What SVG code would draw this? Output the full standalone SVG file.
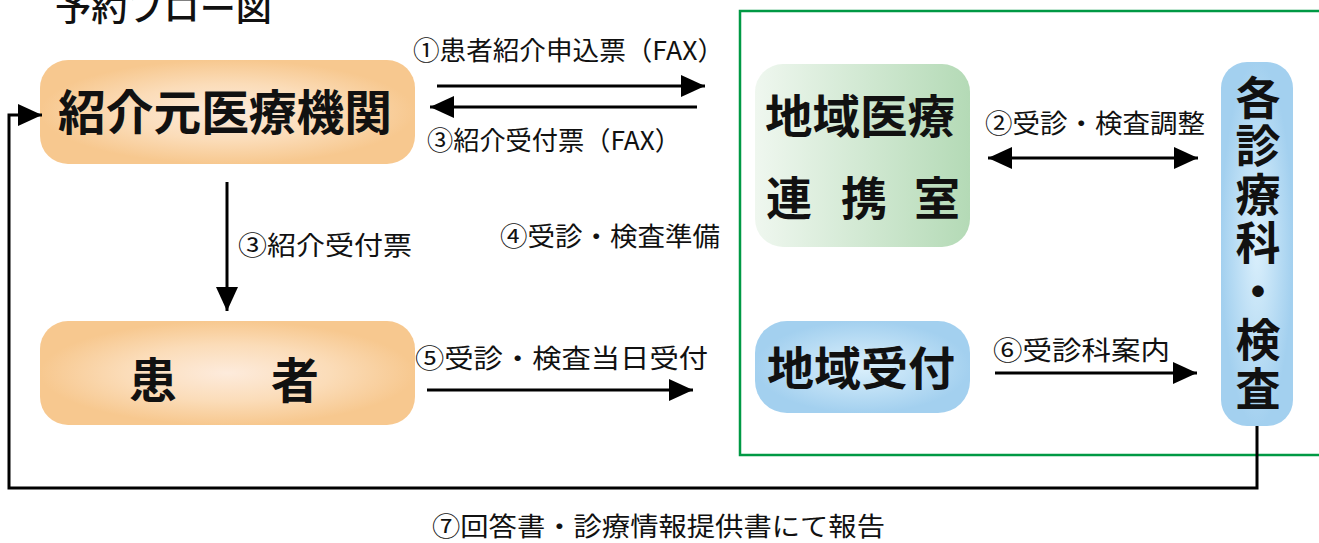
<svg xmlns="http://www.w3.org/2000/svg" width="1319" height="543" viewBox="0 0 1319 543">
<defs>
<radialGradient id="gOrange" cx="50%" cy="50%" r="50%">
<stop offset="0" stop-color="#fdebdc"/>
<stop offset="0.55" stop-color="#fbdcb8"/>
<stop offset="1" stop-color="#f7c88f"/>
</radialGradient>
<linearGradient id="gGreen" x1="0" y1="0" x2="1" y2="0">
<stop offset="0" stop-color="#eff7ef"/>
<stop offset="1" stop-color="#b4dab6"/>
</linearGradient>
<radialGradient id="gBlue" cx="50%" cy="50%" r="50%">
<stop offset="0" stop-color="#dbf0fc"/>
<stop offset="1" stop-color="#a3d0ef"/>
</radialGradient>
<marker id="ah" viewBox="0 0 24 22" refX="24" refY="11" markerWidth="24" markerHeight="22" markerUnits="userSpaceOnUse" orient="auto-start-reverse">
<path d="M0,0 L24,11 L0,22 z" fill="#000"/>
</marker>
<style>
.lbl{font-family:"Noto Sans CJK JP","Noto Sans",sans-serif;font-size:26px;fill:#111}
.big{font-family:"Noto Sans CJK JP","Noto Sans",sans-serif;font-weight:bold;fill:#111}
.ln{stroke:#000;stroke-width:3;fill:none}
</style>
</defs>
<rect width="1319" height="543" fill="#fff"/>
<text class="lbl" x="55" y="21" textLength="217" lengthAdjust="spacingAndGlyphs" style="font-size:34px;font-weight:500">予約フロー図</text>
<rect x="740" y="11" width="620" height="444" fill="none" stroke="#009944" stroke-width="2.5"/>

<g id="node-referrer">
<rect x="40" y="60" width="375" height="104" rx="28" fill="url(#gOrange)"/>
<text class="big" x="58" y="130" style="font-size:48px" textLength="334" lengthAdjust="spacingAndGlyphs">紹介元医療機関</text>
</g>
<g id="node-patient">
<rect x="40" y="321" width="375" height="104" rx="28" fill="url(#gOrange)"/>
<text class="big" x="153" y="398" text-anchor="middle" style="font-size:48px">患</text>
<text class="big" x="295" y="398" text-anchor="middle" style="font-size:48px">者</text>
</g>
<g id="node-renkei">
<rect x="755" y="64" width="215" height="183" rx="28" fill="url(#gGreen)"/>
<text class="big" x="765" y="133" style="font-size:46px" textLength="190" lengthAdjust="spacingAndGlyphs">地域医療</text>
<text class="big" x="789" y="215" text-anchor="middle" style="font-size:46px">連</text>
<text class="big" x="864" y="215" text-anchor="middle" style="font-size:46px">携</text>
<text class="big" x="937" y="215" text-anchor="middle" style="font-size:46px">室</text>
</g>
<g id="node-uketsuke">
<rect x="755" y="321" width="215" height="92" rx="32" fill="url(#gBlue)"/>
<text class="big" x="767" y="385" style="font-size:46px" textLength="188" lengthAdjust="spacingAndGlyphs">地域受付</text>
</g>
<g id="node-shinryoka">
<rect x="1221" y="62" width="72" height="364" rx="26" fill="url(#gBlue)"/>
<text class="big" x="1258" y="75" writing-mode="vertical-rl" style="font-size:45px;letter-spacing:3.5px">各診療科・検査</text>
</g>

<g id="connectors">
<line class="ln" x1="437" y1="86" x2="705" y2="86" marker-end="url(#ah)"/>
<line class="ln" x1="697" y1="107" x2="430" y2="107" marker-end="url(#ah)"/>
<line class="ln" x1="227" y1="182" x2="227" y2="311" marker-end="url(#ah)"/>
<line class="ln" x1="427" y1="390" x2="693" y2="390" marker-end="url(#ah)"/>
<line class="ln" x1="988" y1="158" x2="1198" y2="158" marker-start="url(#ah)" marker-end="url(#ah)"/>
<line class="ln" x1="995" y1="373" x2="1197" y2="373" marker-end="url(#ah)"/>
<polyline class="ln" stroke-width="2.5" points="1257,426 1257,488 9,488 9,115 42,115" marker-end="url(#ah)"/>
<text class="lbl" x="413" y="60" textLength="311" lengthAdjust="spacingAndGlyphs">①患者紹介申込票（FAX）</text>
<text class="lbl" x="427" y="150" textLength="254" lengthAdjust="spacingAndGlyphs">③紹介受付票（FAX）</text>
<text class="lbl" x="238" y="255" textLength="174" lengthAdjust="spacingAndGlyphs">③紹介受付票</text>
<text class="lbl" x="500" y="246" textLength="220" lengthAdjust="spacingAndGlyphs">④受診・検査準備</text>
<text class="lbl" x="985" y="133" textLength="220" lengthAdjust="spacingAndGlyphs">②受診・検査調整</text>
<text class="lbl" x="993" y="360" textLength="177" lengthAdjust="spacingAndGlyphs">⑥受診科案内</text>
<text class="lbl" x="415" y="368" textLength="293" lengthAdjust="spacingAndGlyphs">⑤受診・検査当日受付</text>
<text class="lbl" x="432" y="536" textLength="453" lengthAdjust="spacingAndGlyphs">⑦回答書・診療情報提供書にて報告</text>
</g>
</svg>
